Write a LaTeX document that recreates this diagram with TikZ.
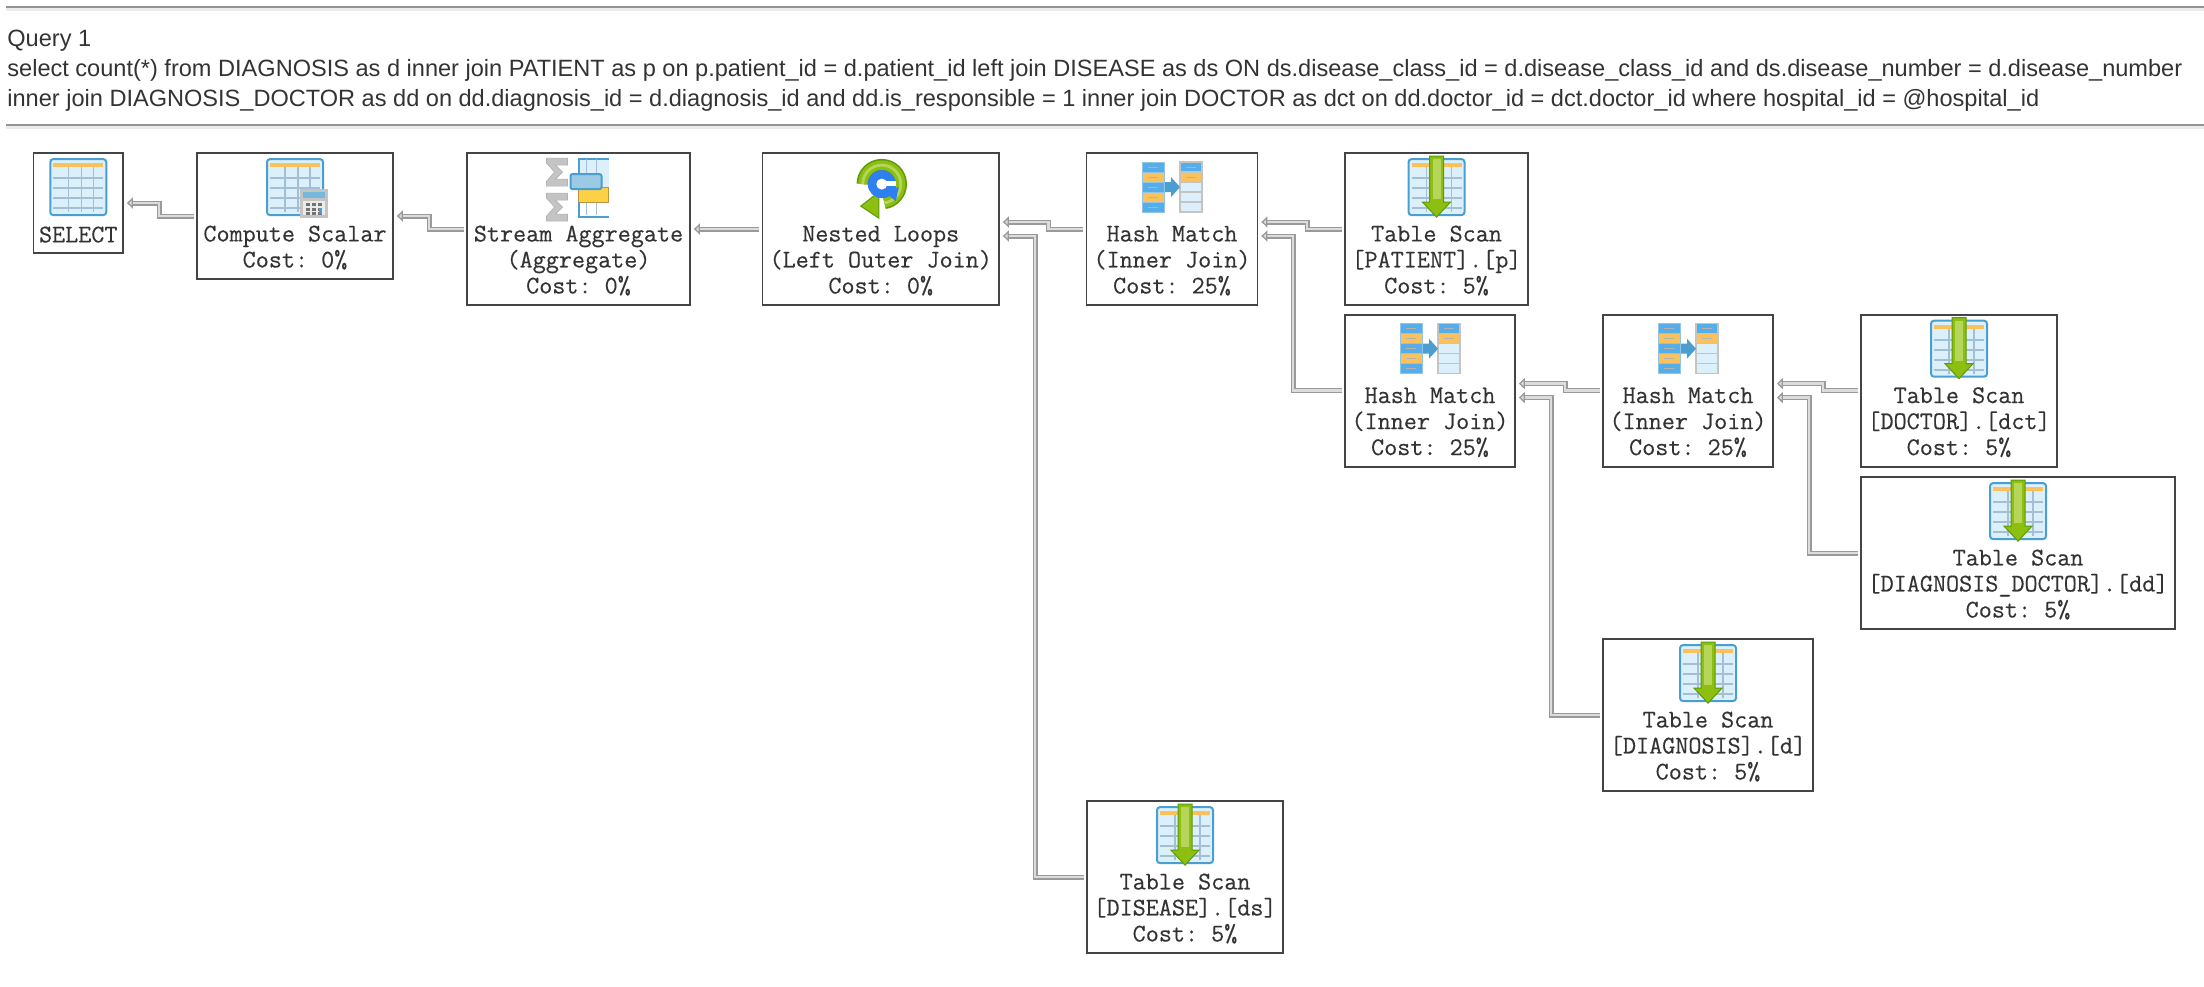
\documentclass[tikz,border=0pt]{standalone}
\usepackage{fontspec}
\setmainfont{Liberation Sans}
\setmonofont[FakeBold=0.35]{Latin Modern Mono}
\usetikzlibrary{arrows.meta}

\definecolor{boxline}{HTML}{444444}
\definecolor{plantext}{HTML}{333333}
\definecolor{flowedge}{HTML}{9A9A9A}
\definecolor{flowfill}{HTML}{DCDCDC}
\definecolor{iconblue}{HTML}{4A9FD0}
\definecolor{iconsky}{HTML}{DCF0FC}
\definecolor{iconline}{HTML}{A3BFD6}
\definecolor{iconorange}{HTML}{FBC25C}
\definecolor{icongreen}{HTML}{8CBF10}
\definecolor{icondark}{HTML}{5F9A0A}
\definecolor{iconlime}{HTML}{B5D65A}
\definecolor{icongray}{HTML}{C4C4C4}
\definecolor{loopblue}{HTML}{2E7FF0}
\definecolor{hashblue}{HTML}{55AEEA}

\newcommand{\iconrow}{\rule{0pt}{26.5pt}\\}

\tikzset{
  opbox/.style={draw=boxline, line width=.9pt, align=center, inner sep=0pt, text=plantext,
    font=\ttfamily\fontsize{12.7}{13}\selectfont},
  flow/.style={draw=flowedge, line width=.65pt, double=flowfill, double distance=1.2pt,
    shorten >=1.5pt, shorten <=1.2pt,
    -{Triangle[length=3pt,width=5.6pt,fill=flowfill]}},
  sqltext/.style={anchor=base west, inner sep=0pt, text=plantext, font=\fontsize{11.78}{13}\selectfont},
  headrule/.style={draw=black!42, line width=1.2pt},
  headshade/.style={draw=black!8, line width=1.2pt},
  gridicon/.pic={
    \draw[iconblue, line width=1pt, fill=iconsky, rounded corners=1.5pt] (-28,-28) rectangle (28,28);
    \fill[iconorange] (-25,-24) rectangle (25,-20);
    \foreach \ypos in {-9,1,11,21} \draw[iconline, line width=.8pt] (-25,\ypos) -- (25,\ypos);
    \foreach \xpos in {-10,3,15} \draw[iconline, line width=.6pt] (\xpos,-20) -- (\xpos,25);
  },
  scanicon/.pic={
    \pic {gridicon};
    \draw[icondark, line width=.5pt, fill=icongreen] (-7,-31) -- (7,-31) -- (7,15) -- (14,15) -- (0,30)
      -- (-14,15) -- (-7,15) -- cycle;
    \fill[iconlime] (-4,-28) rectangle (4,12);
  },
  calcicon/.pic={
    \fill[icongray] (5,2) rectangle (33,31);
    \fill[iconblue!75] (8,5) rectangle (30,11);
    \fill[white!92!black] (8,14) rectangle (30,28);
    \foreach \xpos in {11,17,23} \foreach \ypos in {16,21,25}
      \fill[black!55] (\xpos,\ypos) rectangle ++(3.5,2.5);
    \fill[iconblue] (24,21) rectangle ++(3,6);
  },
  sumicon/.pic={
    \foreach \ypos in {-15,20}
      \draw[black!30, line width=.3pt, fill=icongray, yshift=-\ypos*.5pt]
        (-32,-14) -- (-11,-14) -- (-11,-7) -- (-23,-7) -- (-16,0) -- (-23,7) -- (-11,7) -- (-11,14)
        -- (-32,14) -- (-32,9) -- (-24,0) -- (-32,-9) -- cycle;
    \fill[iconsky] (0,-28) rectangle (30,0);
    \draw[iconblue, line width=1pt] (30,-28) -- (0,-28) -- (0,0);
    \draw[iconline, line width=.7pt] (8,-28) -- (8,-13) (18,-28) -- (18,-13);
    \draw[iconline, line width=.7pt] (8,15) -- (8,28) (18,15) -- (18,28);
    \draw[iconorange!75!black, line width=.5pt, fill=iconorange!75!yellow] (0,0) rectangle (30,15);
    \draw[iconblue, line width=1pt] (0,15) -- (0,30) -- (30,30);
    \draw[iconblue, line width=1pt, fill=iconblue!55, rounded corners=1pt] (-8,-13) rectangle (23,2);
  },
  loopicon/.pic={
    \draw[icondark, line width=6.2pt] (-18,-3) arc[start angle=180, end angle=442, radius=19];
    \draw[icongreen, line width=4.6pt] (-18,-3) arc[start angle=180, end angle=442, radius=19];
    \draw[iconlime, line width=1.4pt] (-18,-3) arc[start angle=180, end angle=442, radius=19];
    \draw[icondark, line width=.5pt, fill=icongreen] (-20,19) -- (-2,5) -- (-2,31) -- cycle;
    \fill[loopblue] (1,-3) circle[radius=14];
    \fill[white] (1,-3) circle[radius=5.5];
    \fill[white] (3,-6) rectangle (15,-1);
    \fill[loopblue] (4,5) -- (18,0) -- (15,14) -- cycle;
  },
  hashicon/.pic={
    \foreach \ypos/\cellcol in {-25/hashblue, -15/iconorange, -5/hashblue, 5/iconorange, 15/hashblue}
      \draw[iconblue!60, line width=.4pt, fill=\cellcol] (-30,\ypos) rectangle (-8,\ypos+10);
    \foreach \ypos/\cellcol in {-25/hashblue, -15/iconorange, -5/iconsky, 5/iconsky, 15/iconsky}
      \draw[icongray, line width=.7pt, fill=\cellcol] (8,\ypos) rectangle (30,\ypos+10);
    \foreach \ypos in {-20,-10,0,10,20} \draw[black!30, line width=.4pt] (-24,\ypos) -- (-14,\ypos);
    \foreach \ypos in {-20,-10} \draw[black!30, line width=.4pt] (14,\ypos) -- (24,\ypos);
    \fill[iconblue] (-7,-5) -- (-1,-5) -- (-1,-10) -- (8,0) -- (-1,10) -- (-1,5) -- (-7,5) -- cycle;
  },
}

\begin{document}
\begin{tikzpicture}[x=.5pt, y=-.5pt]
\useasboundingbox[fill=white] (0,0) rectangle (2204,986);

% query header
\coordinate (ruleA) at (6,7);
\coordinate (ruleAend) at (2204,7);
\coordinate (ruleB) at (6,125);
\coordinate (ruleBend) at (2204,125);
\draw[headshade] ([yshift=-1.2pt]ruleA) -- ([yshift=-1.2pt]ruleAend);
\draw[headshade] ([yshift=-1.2pt]ruleB) -- ([yshift=-1.2pt]ruleBend);
\draw[headrule] (ruleA) -- (ruleAend);
\draw[headrule] (ruleB) -- (ruleBend);
\node[sqltext] (qtitle) at (7,46) {Query 1};
\node[sqltext] (qlineA) at (7,76) {select count(*) from DIAGNOSIS as d inner join PATIENT as p on p.patient\_id = d.patient\_id left join DISEASE as ds ON ds.disease\_class\_id = d.disease\_class\_id and ds.disease\_number = d.disease\_number};
\node[sqltext] (qlineB) at (7,106) {inner join DIAGNOSIS\_DOCTOR as dd on dd.diagnosis\_id = d.diagnosis\_id and dd.is\_responsible = 1 inner join DOCTOR as dct on dd.doctor\_id = dct.doctor\_id where hospital\_id = @hospital\_id};

% operators
\node[opbox, minimum width=44.75pt, minimum height=50pt] (sel) at (78.25,203) {\iconrow SELECT};
\node[opbox, minimum width=98pt, minimum height=63pt] (compute) at (295,216) {\iconrow Compute Scalar\\Cost: 0\%};
\node[opbox, minimum width=111.5pt, minimum height=76pt] (aggr) at (578.5,229) {\iconrow Stream Aggregate\\(Aggregate)\\Cost: 0\%};
\node[opbox, minimum width=118.25pt, minimum height=76pt] (loops) at (880.75,229) {\iconrow Nested Loops\\(Left Outer Join)\\Cost: 0\%};
\node[opbox, minimum width=85.5pt, minimum height=76pt] (hashA) at (1172,229) {\iconrow Hash Match\\(Inner Join)\\Cost: 25\%};
\node[opbox, minimum width=91.5pt, minimum height=76pt] (patient) at (1436.5,229) {\iconrow Table Scan\\{[PATIENT].[p]}\\Cost: 5\%};
\node[opbox, minimum width=85pt, minimum height=76pt] (hashB) at (1430,390.6) {\iconrow Hash Match\\(Inner Join)\\Cost: 25\%};
\node[opbox, minimum width=85pt, minimum height=76pt] (hashC) at (1688,390.6) {\iconrow Hash Match\\(Inner Join)\\Cost: 25\%};
\node[opbox, minimum width=98pt, minimum height=76pt] (doctor) at (1959,390.6) {\iconrow Table Scan\\{[DOCTOR].[dct]}\\Cost: 5\%};
\node[opbox, minimum width=157pt, minimum height=76pt] (diagdoc) at (2018,553) {\iconrow Table Scan\\{[DIAGNOSIS\_DOCTOR].[dd]}\\Cost: 5\%};
\node[opbox, minimum width=105pt, minimum height=76pt] (diag) at (1708,715) {\iconrow Table Scan\\{[DIAGNOSIS].[d]}\\Cost: 5\%};
\node[opbox, minimum width=98pt, minimum height=76pt] (disease) at (1185,877) {\iconrow Table Scan\\{[DISEASE].[ds]}\\Cost: 5\%};

% icons
\pic at ([yshift=-17.5pt]sel.north) {gridicon};
\pic at ([yshift=-17.5pt]compute.north) {gridicon};
\pic at ([yshift=-17.5pt]compute.north) {calcicon};
\pic at ([yshift=-17.5pt]aggr.north) {sumicon};
\pic at ([yshift=-17.5pt]loops.north) {loopicon};
\pic at ([yshift=-17.5pt]hashA.north) {hashicon};
\pic at ([yshift=-17.5pt]hashB.north) {hashicon};
\pic at ([yshift=-17.5pt]hashC.north) {hashicon};
\pic at ([yshift=-17.5pt]patient.north) {scanicon};
\pic at ([yshift=-17.5pt]doctor.north) {scanicon};
\pic at ([yshift=-17.5pt]diagdoc.north) {scanicon};
\pic at ([yshift=-17.5pt]diag.north) {scanicon};
\pic at ([yshift=-17.5pt]disease.north) {scanicon};

% connectors
\draw[flow] (compute.west) -- ++(-37,0) |- (sel.east);
\draw[flow] (aggr.west) -- ++(-37,0) |- (compute.east);
\draw[flow] (loops.west) -- (aggr.east);
\draw[flow] (hashA.west) -- ++(-37,0) |- ([yshift=3.5pt]loops.east);
\draw[flow] (disease.west) -- ++(-51,0) |- ([yshift=-3.5pt]loops.east);
\draw[flow] (patient.west) -- ++(-37,0) |- ([yshift=3.5pt]hashA.east);
\draw[flow] (hashB.west) -- ++(-51,0) |- ([yshift=-3.5pt]hashA.east);
\draw[flow] (hashC.west) -- ++(-37,0) |- ([yshift=3.5pt]hashB.east);
\draw[flow] (diag.west) -- ++(-51,0) |- ([yshift=-3.5pt]hashB.east);
\draw[flow] (doctor.west) -- ++(-37,0) |- ([yshift=3.5pt]hashC.east);
\draw[flow] (diagdoc.west) -- ++(-51,0) |- ([yshift=-3.5pt]hashC.east);
\end{tikzpicture}
\end{document}
